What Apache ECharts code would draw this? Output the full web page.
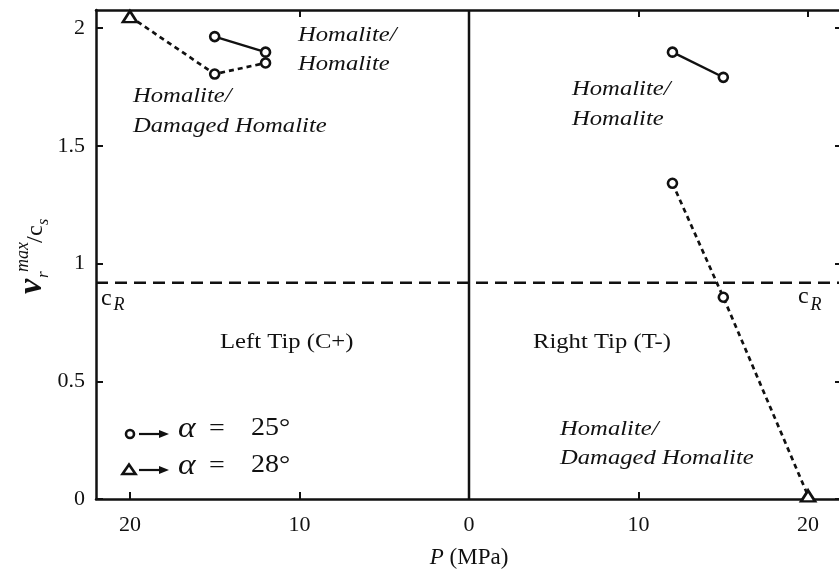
<!DOCTYPE html>
<html>
<head>
<meta charset="utf-8">
<script src="https://cdn.jsdelivr.net/npm/echarts@6/dist/echarts.min.js"></script>
<style>
  html, body { margin: 0; padding: 0; background: #fff; }
  #chart { width: 839px; height: 576px; }
</style>
</head>
<body>
<div id="chart"></div>
<script>
// Axis ticks: pressure P (MPa) is plotted negative for the left tip, positive for the right tip
const xTicks = [-20, -10, 0, 10, 20];
const yTicks = [0, 0.5, 1, 1.5, 2];
const xRange = [-22, 22];
const yRange = [0, 2.077];

// Rayleigh wave speed ratio c_R / c_s
const cR = 0.919;

// Left tip (C+), Homalite/Homalite
const leftHomP = [-15, -12];
const leftHomV = [1.964, 1.898];
const leftHomAlpha = [25, 25];
// Left tip (C+), Homalite/Damaged Homalite
const leftDamP = [-20, -15, -12];
const leftDamV = [2.049, 1.805, 1.852];
const leftDamAlpha = [28, 25, 25];
// Right tip (T-), Homalite/Homalite
const rightHomP = [12, 15];
const rightHomV = [1.898, 1.791];
const rightHomAlpha = [25, 25];
// Right tip (T-), Homalite/Damaged Homalite
const rightDamP = [12, 15, 20];
const rightDamV = [1.341, 0.857, 0.013];
const rightDamAlpha = [25, 25, 28];

const INK = '#111';
const SERIF = "'Liberation Serif', 'Times New Roman', Times, serif";
const STRETCH = 1.12;

function points(P, V, alpha) {
  return P.map((p, i) => alpha[i] === 28
    ? { value: [p, V[i]], symbol: 'triangle', symbolSize: [14, 11] }
    : { value: [p, V[i]], symbol: 'circle', symbolSize: 9 });
}

function dataLine(name, P, V, alpha, dash) {
  return {
    name, type: 'line', data: points(P, V, alpha), z: 5,
    clip: false, showSymbol: true, animation: false,
    lineStyle: { color: INK, width: dash ? 2.7 : 2.3, type: dash ? [5, 4] : 'solid' },
    itemStyle: { color: '#fff', borderColor: INK, borderWidth: 2.6 },
    emphasis: { disabled: true }
  };
}

function refLine(name, pts, dash) {
  return {
    name, type: 'line', data: pts, z: 3, symbol: 'none', animation: false,
    lineStyle: { color: INK, width: 2.5, type: dash ? [12, 7] : 'solid' },
    emphasis: { disabled: true }
  };
}

function txt(str, x, y, font, scale) {
  return {
    type: 'text', x, y, scaleX: scale || 1, z: 10,
    style: {
      text: str, font, fill: INK,
      align: 'left', verticalAlign: 'middle',
      textAlign: 'left', textVerticalAlign: 'middle'
    }
  };
}

const it22 = 'italic 22px ' + SERIF;
const rm22 = '22px ' + SERIF;
const rm25 = '25px ' + SERIF;

const axisLineStyle = { show: true, onZero: false, lineStyle: { color: INK, width: 2.5 } };
const tickStyle = { color: INK, width: 2 };

function draw() {
  const chart = echarts.init(document.getElementById('chart'), null, { renderer: 'canvas' });
  chart.setOption({
    animation: false,
    backgroundColor: '#fff',
    textStyle: { fontFamily: SERIF },
    grid: { left: 96, right: -3, top: 10, bottom: 77, outerBoundsMode: 'none' },
    xAxis: [
      {
        type: 'value', position: 'bottom', min: xRange[0], max: xRange[1],
        axisLine: axisLineStyle,
        axisTick: { show: true, inside: true, length: 7, lineStyle: tickStyle, customValues: xTicks },
        axisLabel: {
          customValues: xTicks, formatter: v => String(Math.abs(v)),
          fontFamily: SERIF, fontSize: 22, color: INK, margin: 15
        },
        splitLine: { show: false },
        name: '{i|P} (MPa)', nameLocation: 'middle', nameGap: 47,
        nameTextStyle: {
          fontFamily: SERIF, fontSize: 23, color: INK,
          rich: { i: { fontFamily: SERIF, fontSize: 23, fontStyle: 'italic', color: INK } }
        }
      },
      {
        type: 'value', position: 'top', min: xRange[0], max: xRange[1],
        axisLine: axisLineStyle,
        axisTick: { show: true, inside: true, length: 7, lineStyle: tickStyle, customValues: xTicks },
        axisLabel: { show: false },
        splitLine: { show: false }
      }
    ],
    yAxis: [
      {
        type: 'value', position: 'left', min: yRange[0], max: yRange[1],
        axisLine: axisLineStyle,
        axisTick: { show: true, inside: true, length: 7, lineStyle: tickStyle, customValues: yTicks },
        axisLabel: {
          customValues: yTicks, formatter: v => String(v),
          fontFamily: SERIF, fontSize: 22, color: INK, margin: 11
        },
        splitLine: { show: false }
      },
      {
        type: 'value', position: 'right', min: yRange[0], max: yRange[1],
        axisLine: axisLineStyle,
        axisTick: { show: true, inside: true, length: 7, lineStyle: tickStyle, customValues: yTicks },
        axisLabel: { show: false },
        splitLine: { show: false }
      }
    ],
    series: [
      refLine('cR', [[xRange[0], cR], [xRange[1], cR]], true),
      refLine('P0', [[0, yRange[0]], [0, yRange[1]]], false),
      dataLine('left-hom', leftHomP, leftHomV, leftHomAlpha, false),
      dataLine('left-dam', leftDamP, leftDamV, leftDamAlpha, true),
      dataLine('right-hom', rightHomP, rightHomV, rightHomAlpha, false),
      dataLine('right-dam', rightDamP, rightDamV, rightDamAlpha, true)
    ],
    graphic: {
      elements: [
        // y-axis title: v_r^max / c_s, reading bottom to top
        {
          type: 'group', x: 30, y: 253, rotation: Math.PI / 2,
          children: [
            txt('v', -41, 2.5, 'italic bold 34px ' + SERIF),
            txt('r', -25, 13.3, 'italic 17px ' + SERIF),
            txt('max', -19, -6.5, 'italic 18px ' + SERIF),
            txt('/', 10, 5.9, '24px ' + SERIF),
            txt('c', 17, 5.9, '24px ' + SERIF),
            txt('s', 28, 13.6, 'italic 16px ' + SERIF)
          ]
        },
        // interface labels
        txt('Homalite/', 298, 35.5, it22, STRETCH),
        txt('Homalite', 298, 64.5, it22, STRETCH),
        txt('Homalite/', 133, 96.7, it22, STRETCH),
        txt('Damaged Homalite', 133, 126.3, it22, STRETCH),
        txt('Homalite/', 572, 89.7, it22, STRETCH),
        txt('Homalite', 572, 119.2, it22, STRETCH),
        txt('Homalite/', 560, 429, it22, STRETCH),
        txt('Damaged Homalite', 560, 458, it22, STRETCH),
        // tip labels
        txt('Left Tip (C+)', 220, 342.5, rm22, STRETCH),
        txt('Right Tip (T-)', 533, 342, rm22, STRETCH),
        // Rayleigh speed labels
        txt('c', 101, 298.6, '24px ' + SERIF),
        txt('R', 113.5, 305.6, 'italic 18px ' + SERIF),
        txt('c', 798, 297, '24px ' + SERIF),
        txt('R', 810.5, 305.6, 'italic 18px ' + SERIF),
        // key: symbol -> inclination angle
        { type: 'circle', z: 10, shape: { cx: 130, cy: 434, r: 4 }, style: { fill: '#fff', stroke: INK, lineWidth: 2.6 } },
        { type: 'line', z: 10, shape: { x1: 139, y1: 434, x2: 162, y2: 434 }, style: { stroke: INK, lineWidth: 2.2 } },
        { type: 'polygon', z: 10, shape: { points: [[159, 430], [169, 434], [159, 438]] }, style: { fill: INK } },
        txt('\u03B1', 178, 429, 'italic 30px ' + SERIF, STRETCH),
        txt('=', 209, 429.5, rm25, STRETCH),
        txt('25\u00B0', 251, 428.5, rm25, STRETCH),
        { type: 'polygon', z: 10, shape: { points: [[129, 464.5], [135.5, 474], [122.5, 474]] }, style: { fill: '#fff', stroke: INK, lineWidth: 2.6 } },
        { type: 'line', z: 10, shape: { x1: 139, y1: 470, x2: 162, y2: 470 }, style: { stroke: INK, lineWidth: 2.2 } },
        { type: 'polygon', z: 10, shape: { points: [[159, 466], [169, 470], [159, 474]] }, style: { fill: INK } },
        txt('\u03B1', 178, 466, 'italic 30px ' + SERIF, STRETCH),
        txt('=', 209, 466.2, rm25, STRETCH),
        txt('28\u00B0', 251, 465.2, rm25, STRETCH)
      ]
    }
  });
}

const fontLoads = ['22px', 'italic 22px', 'bold italic 34px'].map(f => document.fonts.load(f + " 'Liberation Serif'"));
Promise.all(fontLoads).then(draw, draw);
</script>
</body>
</html>
